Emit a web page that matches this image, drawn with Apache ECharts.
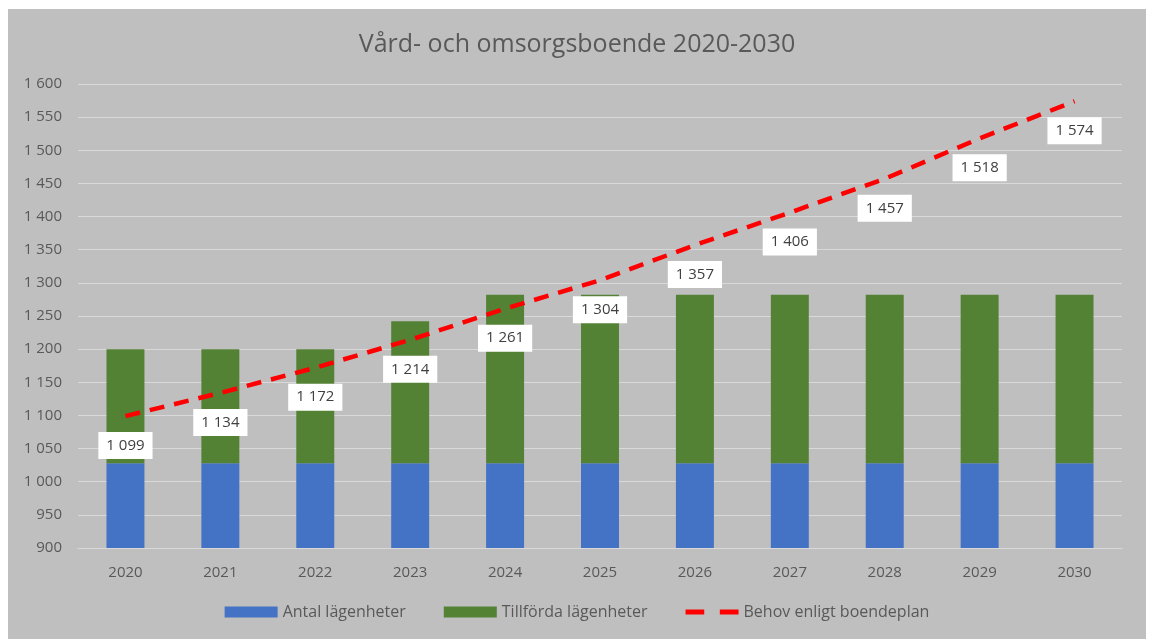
<!DOCTYPE html>
<html lang="sv">

<head>
    <meta charset="UTF-8">
    <title>Vård- och omsorgsboende 2020-2030</title>
    <style>
        html, body {
            margin: 0;
            padding: 0;
            background: #ffffff;
        }

        #main {
            position: absolute;
            left: 8px;
            top: 9px;
            width: 1138px;
            height: 630px;
            background: #bfbfbf;
        }
    </style>
</head>

<body>
    <div id="main"></div>
    <script src="https://cdn.jsdelivr.net/npm/echarts@6/dist/echarts.min.js"></script>
    <script>
        // år på x-axeln
        const years = ['2020', '2021', '2022', '2023', '2024', '2025', '2026', '2027', '2028', '2029', '2030'];
        // befintliga lägenheter
        const antal = [1028, 1028, 1028, 1028, 1028, 1028, 1028, 1028, 1028, 1028, 1028];
        // tillförda lägenheter (staplas ovanpå)
        const tillforda = [172, 172, 172, 214, 254, 254, 254, 254, 254, 254, 254];
        // behov enligt boendeplan
        const behov = [1099, 1134, 1172, 1214, 1261, 1304, 1357, 1406, 1457, 1518, 1574];

        const fmt = v => String(v).replace(/\B(?=(\d{3})+(?!\d))/g, ' ');
        const font = '"Open Sans", "Noto Sans", sans-serif';

        var myChart = echarts.init(document.getElementById('main'));

        option = {
            backgroundColor: '#bfbfbf',
            textStyle: {
                fontFamily: font
            },
            title: {
                text: 'Vård- och omsorgsboende 2020-2030',
                left: 'center',
                top: 18,
                textStyle: {
                    color: '#595959',
                    fontSize: 25,
                    fontWeight: 'normal',
                    fontFamily: font
                }
            },
            legend: {
                bottom: 14,
                left: 'center',
                itemWidth: 53,
                itemHeight: 11,
                itemGap: 38,
                textStyle: {
                    color: '#595959',
                    fontSize: 16
                },
                data: [{
                    name: 'Antal lägenheter',
                    icon: 'rect'
                }, {
                    name: 'Tillförda lägenheter',
                    icon: 'rect'
                }, {
                    name: 'Behov enligt boendeplan',
                    icon: 'path://M0,0h18v5h-18z M33,0h18v5h-18z'
                }]
            },
            grid: {
                left: 70,
                right: 24,
                top: 75,
                bottom: 91
            },
            xAxis: {
                type: 'category',
                data: years,
                axisTick: {
                    show: false
                },
                axisLine: {
                    lineStyle: {
                        color: '#d9d9d9'
                    }
                },
                axisLabel: {
                    color: '#595959',
                    fontSize: 15,
                    margin: 17
                }
            },
            yAxis: {
                type: 'value',
                min: 900,
                max: 1600,
                interval: 50,
                axisLine: {
                    show: false
                },
                axisTick: {
                    show: false
                },
                splitLine: {
                    lineStyle: {
                        color: '#d9d9d9',
                        width: 1
                    }
                },
                axisLabel: {
                    color: '#595959',
                    fontSize: 15,
                    margin: 16,
                    formatter: fmt
                }
            },
            series: [{
                name: 'Antal lägenheter',
                type: 'bar',
                stack: 'boende',
                barWidth: '40%',
                itemStyle: {
                    color: '#4472c4'
                },
                data: antal
            }, {
                name: 'Tillförda lägenheter',
                type: 'bar',
                stack: 'boende',
                barWidth: '40%',
                itemStyle: {
                    color: '#548235'
                },
                data: tillforda
            }, {
                name: 'Behov enligt boendeplan',
                type: 'line',
                symbol: 'circle',
                symbolSize: 0,
                showSymbol: true,
                z: 5,
                itemStyle: {
                    color: '#ff0000'
                },
                lineStyle: {
                    color: '#ff0000',
                    width: 4.5,
                    type: [15, 10]
                },
                label: {
                    show: true,
                    position: 'bottom',
                    distance: 16,
                    color: '#404040',
                    fontSize: 15,
                    backgroundColor: '#ffffff',
                    padding: [6, 8],
                    formatter: p => fmt(p.value)
                },
                data: behov
            }]
        };
        myChart.setOption(option);
    </script>

</body>

</html>
